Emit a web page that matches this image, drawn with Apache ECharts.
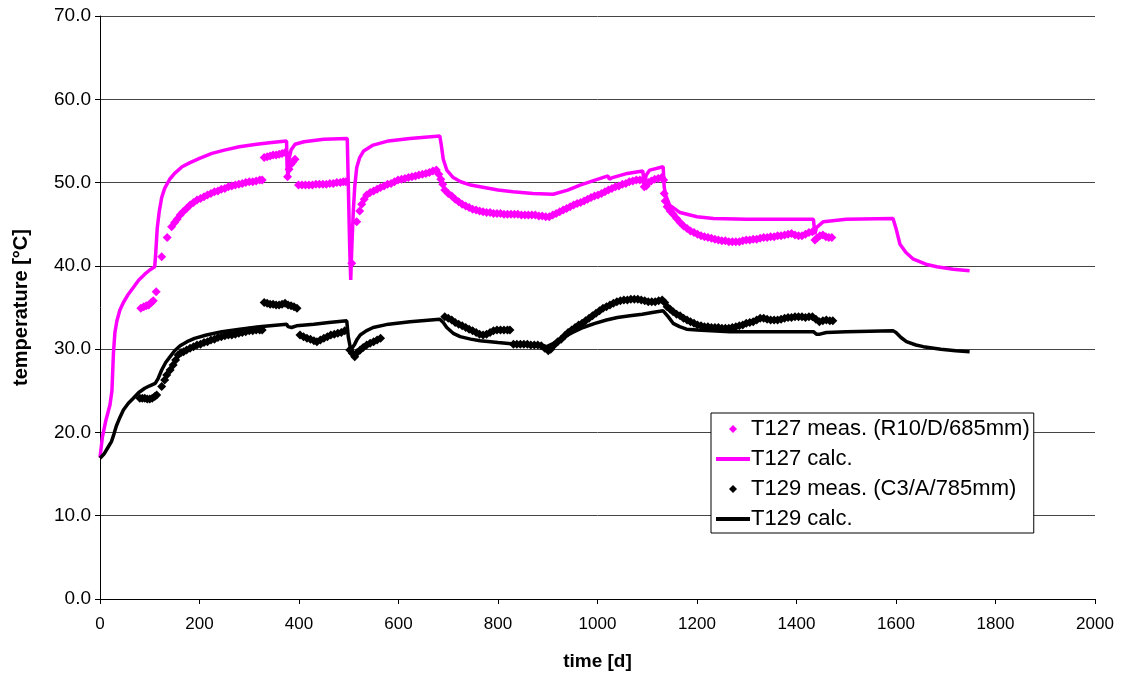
<!DOCTYPE html>
<html>
<head>
<meta charset="utf-8">
<script src="https://cdn.jsdelivr.net/npm/echarts@6/dist/echarts.min.js"></script>
<style>
html,body{margin:0;padding:0;background:#fff;}
#chart{width:1123px;height:681px;}
</style>
</head>
<body>
<div id="chart"></div>
<script>
const xTicks = { min: 0, max: 2000, interval: 200 };
const yTicks = { min: 0, max: 70, interval: 10 };
const seriesNames = ['T127 meas. (R10/D/685mm)', 'T127 calc.', 'T129 meas. (C3/A/785mm)', 'T129 calc.'];

const t127Meas = [
[82,34.9],[88,35.1],[93,35.2],[98,35.3],[103,35.6],[107,35.8],[113,36.9],
[124,41.1],[135,43.4],[144,44.7],[150,45.2],[155,45.6],[161,46.1],[167,46.5],[174,46.9],[181,47.3],[188,47.6],[195,47.9],[202,48.1],[209,48.3],[216,48.5],[223,48.7],[230,48.9],[237,49.0],[244,49.2],[251,49.3],[258,49.5],[265,49.6],[272,49.7],[279,49.8],[286,49.9],[293,50.0],[300,50.1],[307,50.1],[314,50.2],[321,50.3],[326,50.3],
[330,53.0],[336,53.1],[342,53.2],[348,53.3],[354,53.3],[360,53.4],[366,53.5],[372,53.6],[377,50.7],[380,51.6],[384,52.2],[388,52.5],[392,52.8],
[399,49.7],[406,49.7],[413,49.7],[420,49.7],[427,49.7],[434,49.8],[441,49.8],[448,49.8],[455,49.8],[462,49.9],[469,49.9],[476,50.0],[483,50.0],[489,50.1],[494,50.1],
[506,40.3],[516,45.3],[522,46.6],[526,47.4],[531,48.0],[536,48.5],[543,48.8],[550,49.0],[557,49.2],[564,49.4],[571,49.6],[578,49.8],[585,49.9],[592,50.1],[599,50.3],[606,50.4],[613,50.5],[620,50.6],[627,50.7],[634,50.8],[641,50.9],[648,51.0],[655,51.1],[662,51.2],[669,51.4],[676,51.5],[681,51.0],[685,50.4],[689,49.8],[693,49.1],[700,48.7],[707,48.4],[714,48.0],[721,47.7],[728,47.4],[735,47.2],[742,47.0],[749,46.8],[756,46.7],[763,46.6],[770,46.5],[777,46.4],[784,46.4],[791,46.3],[798,46.3],[805,46.3],[812,46.2],[819,46.2],[826,46.2],[833,46.2],[840,46.2],[847,46.1],[854,46.1],[861,46.1],[868,46.1],[875,46.1],[882,46.0],[889,46.0],[896,45.9],[903,45.9],[910,46.1],[917,46.3],[924,46.5],[931,46.7],[938,46.9],[945,47.1],[952,47.3],[959,47.5],[966,47.6],[973,47.8],[980,48.0],[987,48.2],[994,48.4],[1001,48.5],[1008,48.7],[1015,48.9],[1022,49.1],[1029,49.3],[1036,49.5],[1043,49.6],[1050,49.8],[1057,49.9],[1064,50.1],[1071,50.2],[1078,50.3],[1085,50.3],[1091,50.3],[1094,49.5],[1098,49.6],[1102,50.0],[1108,50.2],[1115,50.4],[1122,50.5],[1129,50.6],[1133,50.3],[1134,48.7],[1136,47.8],[1140,47.1],[1146,46.6],[1152,46.2],[1159,45.7],[1166,45.2],[1173,44.8],[1180,44.5],[1187,44.2],[1194,44.0],[1201,43.8],[1208,43.6],[1215,43.5],[1222,43.4],[1229,43.3],[1236,43.2],[1243,43.1],[1250,43.0],[1257,43.0],[1264,42.9],[1271,42.9],[1278,42.9],[1285,42.9],[1292,43.0],[1299,43.1],[1306,43.1],[1313,43.2],[1320,43.2],[1327,43.3],[1334,43.4],[1341,43.4],[1348,43.5],[1355,43.5],[1362,43.6],[1369,43.6],[1376,43.7],[1383,43.8],[1390,43.9],[1397,43.7],[1404,43.6],[1411,43.6],[1418,43.8],[1425,44.0],[1432,44.1],[1437,43.1],[1441,43.3],[1447,43.6],[1453,43.7],[1459,43.5],[1465,43.4],[1471,43.4]
];

const t127Calc = [
[0,17.0],[5,19.5],[12,21.5],[20,23.3],[24,25.0],[27,29.5],[30,32.0],[34,33.4],[40,34.7],[47,35.6],[57,36.6],[67,37.4],[78,38.3],[90,39.0],[100,39.5],[110,39.9],[112,41.5],[115,44.5],[119,46.5],[124,48.2],[130,49.3],[140,50.4],[150,51.1],[165,51.9],[181,52.4],[200,52.9],[225,53.5],[250,53.9],[280,54.3],[315,54.6],[345,54.8],[375,55.0],[376,52.0],[378,50.5],[380,52.8],[384,53.9],[392,54.6],[410,54.9],[450,55.2],[497,55.3],[499,50.0],[502,42.0],[504,38.3],[506,42.0],[509,46.4],[512,49.5],[516,51.8],[522,53.0],[530,53.8],[549,54.5],[580,55.0],[623,55.3],[683,55.6],[686,54.5],[690,52.8],[697,51.5],[710,50.6],[725,50.1],[745,49.7],[764,49.5],[800,49.1],[830,48.9],[870,48.7],[911,48.6],[940,49.1],[965,49.7],[995,50.3],[1021,50.8],[1024,50.4],[1030,50.6],[1060,51.1],[1091,51.4],[1094,49.8],[1098,50.9],[1105,51.5],[1132,51.9],[1134,49.5],[1137,48.5],[1145,47.3],[1166,46.4],[1200,45.9],[1233,45.7],[1300,45.6],[1434,45.6],[1437,43.8],[1440,44.6],[1454,45.3],[1500,45.6],[1594,45.7],[1600,44.5],[1608,42.6],[1620,41.6],[1635,40.8],[1660,40.2],[1682,39.9],[1715,39.6],[1748,39.4]
];

const t129Meas = [
[80,24.1],[85,24.1],[90,24.1],[95,24.0],[100,24.0],[105,24.1],[110,24.3],[114,24.5],
[124,25.5],[130,26.3],[134,26.9],[141,27.5],[147,28.1],[152,28.7],[157,29.3],[163,29.6],[168,29.7],[174,29.9],[181,30.1],[188,30.3],[195,30.5],[202,30.6],[209,30.8],[216,30.9],[223,31.1],[230,31.2],[237,31.4],[244,31.5],[251,31.6],[258,31.7],[265,31.7],[272,31.8],[279,31.9],[286,32.0],[293,32.1],[300,32.2],[307,32.2],[314,32.3],[321,32.3],[326,32.3],
[330,35.6],[336,35.5],[342,35.4],[348,35.4],[354,35.3],[360,35.3],[366,35.4],[372,35.5],[378,35.3],[384,35.2],[390,35.1],[396,34.9],
[402,31.7],[409,31.5],[416,31.3],[423,31.2],[430,31.0],[436,30.9],[443,31.1],[450,31.3],[457,31.5],[464,31.7],[471,31.8],[478,31.9],[485,32.0],[492,32.2],
[502,29.9],[507,29.5],[512,29.1],[517,29.6],[523,29.9],[529,30.2],[536,30.5],[543,30.7],[550,30.9],[557,31.1],[564,31.3],
[693,33.9],[700,33.7],[707,33.5],[714,33.2],[721,33.0],[728,32.8],[735,32.6],[742,32.4],[749,32.2],[756,32.0],[763,31.8],[770,31.7],[777,31.8],[784,32.0],[791,32.2],[798,32.3],[805,32.3],[812,32.3],[819,32.3],[824,32.3],
[831,30.6],[838,30.6],[845,30.6],[852,30.6],[859,30.6],[866,30.5],[873,30.5],[880,30.5],[887,30.4],[894,30.1],[901,29.8],[906,30.0],[913,30.5],[920,30.9],[927,31.2],[934,31.6],[941,32.0],[948,32.3],[955,32.6],[962,32.9],[969,33.1],[976,33.4],[983,33.7],[990,34.0],[997,34.3],[1004,34.6],[1011,34.9],[1018,35.1],[1025,35.3],[1032,35.5],[1039,35.7],[1046,35.8],[1053,35.9],[1060,35.9],[1067,36.0],[1074,36.0],[1081,36.0],[1088,35.9],[1095,35.8],[1102,35.7],[1109,35.7],[1116,35.7],[1123,35.8],[1130,35.9],[1135,35.6],[1140,35.1],[1146,34.8],[1152,34.5],[1159,34.2],[1166,34.0],[1173,33.7],[1180,33.5],[1187,33.3],[1194,33.1],[1201,32.9],[1208,32.8],[1215,32.7],[1222,32.7],[1229,32.6],[1236,32.6],[1243,32.6],[1250,32.5],[1257,32.5],[1264,32.5],[1271,32.6],[1278,32.7],[1285,32.8],[1292,32.9],[1299,33.1],[1306,33.2],[1313,33.3],[1320,33.5],[1327,33.7],[1334,33.7],[1341,33.6],[1348,33.5],[1355,33.5],[1362,33.5],[1369,33.6],[1376,33.7],[1383,33.8],[1390,33.8],[1397,33.9],[1404,33.9],[1411,33.9],[1418,33.8],[1425,33.9],[1432,33.9],[1439,33.6],[1446,33.3],[1453,33.4],[1460,33.5],[1467,33.4],[1473,33.4]
];

const t129Calc = [
[0,16.9],[8,17.4],[15,18.1],[23,18.9],[28,19.8],[33,20.8],[40,21.8],[47,22.7],[57,23.5],[67,24.1],[78,24.8],[90,25.3],[100,25.6],[111,25.9],[117,26.5],[124,27.5],[132,28.4],[141,29.1],[150,29.8],[161,30.4],[175,30.9],[190,31.3],[214,31.7],[245,32.1],[281,32.4],[320,32.7],[375,33.0],[378,32.7],[385,32.6],[395,32.8],[430,33.0],[460,33.2],[496,33.4],[499,31.5],[504,29.9],[508,29.8],[512,30.6],[517,31.2],[523,31.7],[535,32.2],[549,32.6],[580,33.0],[623,33.3],[683,33.6],[690,33.2],[697,32.6],[710,31.9],[724,31.5],[745,31.2],[764,31.0],[800,30.8],[837,30.6],[870,30.5],[898,30.3],[915,30.8],[931,31.4],[950,32.0],[971,32.6],[995,33.1],[1018,33.5],[1040,33.8],[1065,34.0],[1090,34.2],[1110,34.4],[1132,34.6],[1142,33.9],[1152,33.1],[1165,32.7],[1179,32.4],[1200,32.3],[1266,32.1],[1327,32.1],[1434,32.1],[1440,31.8],[1447,31.8],[1460,32.0],[1500,32.1],[1594,32.2],[1600,32.0],[1610,31.4],[1621,30.9],[1640,30.5],[1655,30.3],[1690,30.0],[1720,29.8],[1748,29.7]
];

const MAGENTA = '#FF00FF';
const BLACK = '#000000';
const FONT = 'Liberation Sans, Arial, sans-serif';
const DIAMOND_ICON = 'path://M5,0 L10,5 L5,10 L0,5 Z';
const LINE_ICON = 'path://M0,0 L34,0 L34,4 L0,4 Z';

const chart = echarts.init(document.getElementById('chart'), null, { renderer: 'canvas' });
chart.setOption({
  animation: false,
  backgroundColor: '#ffffff',
  textStyle: { fontFamily: FONT, color: '#000' },
  grid: { left: 100, right: 28, top: 16, bottom: 82, containLabel: false },
  xAxis: {
    type: 'value', min: xTicks.min, max: xTicks.max, interval: xTicks.interval,
    name: 'time [d]', nameLocation: 'middle', nameGap: 53,
    nameTextStyle: { fontFamily: FONT, fontWeight: 'bold', fontSize: 19, color: '#000' },
    axisLine: { show: true, onZero: false, lineStyle: { color: '#000', width: 1 } },
    axisTick: { show: true, inside: false, length: 5, lineStyle: { color: '#000' } },
    axisLabel: { fontFamily: FONT, fontSize: 17, color: '#000', margin: 17, formatter: v => String(v) },
    splitLine: { show: false }
  },
  yAxis: {
    type: 'value', min: yTicks.min, max: yTicks.max, interval: yTicks.interval,
    name: 'temperature [°C]', nameLocation: 'middle', nameGap: 69, nameRotate: 90,
    nameTextStyle: { fontFamily: FONT, fontWeight: 'bold', fontSize: 20, color: '#000' },
    axisLine: { show: true, onZero: false, lineStyle: { color: '#000', width: 1 } },
    axisTick: { show: true, inside: false, length: 5, lineStyle: { color: '#000' } },
    axisLabel: { fontFamily: FONT, fontSize: 19, color: '#000', margin: 9, formatter: v => v.toFixed(1) },
    splitLine: { show: true, lineStyle: { color: '#444', width: 1 } }
  },
  legend: {
    orient: 'vertical', left: 711, top: 413,
    backgroundColor: '#fff', borderColor: '#000', borderWidth: 1,
    padding: [5, 4, 3, 5], itemGap: 8, itemWidth: 34, itemHeight: 8,
    symbolKeepAspect: true,
    textStyle: { fontFamily: FONT, fontSize: 22, lineHeight: 22, color: '#000', padding: [0, 0, 0, -4] },
    data: [
      { name: seriesNames[0], icon: DIAMOND_ICON, itemStyle: { color: MAGENTA } },
      { name: seriesNames[1], icon: LINE_ICON, itemStyle: { color: MAGENTA } },
      { name: seriesNames[2], icon: DIAMOND_ICON, itemStyle: { color: BLACK } },
      { name: seriesNames[3], icon: LINE_ICON, itemStyle: { color: BLACK } }
    ]
  },
  series: [
    { name: seriesNames[0], type: 'scatter', data: t127Meas, symbol: 'diamond', symbolSize: 9,
      itemStyle: { color: MAGENTA, opacity: 1 } },
    { name: seriesNames[1], type: 'line', data: t127Calc, showSymbol: false, symbol: 'none',
      lineStyle: { color: MAGENTA, width: 3.5 }, itemStyle: { color: MAGENTA } },
    { name: seriesNames[2], type: 'scatter', data: t129Meas, symbol: 'diamond', symbolSize: 9,
      itemStyle: { color: BLACK, opacity: 1 } },
    { name: seriesNames[3], type: 'line', data: t129Calc, showSymbol: false, symbol: 'none',
      lineStyle: { color: BLACK, width: 3.5 }, itemStyle: { color: BLACK } }
  ]
});
</script>
</body>
</html>
